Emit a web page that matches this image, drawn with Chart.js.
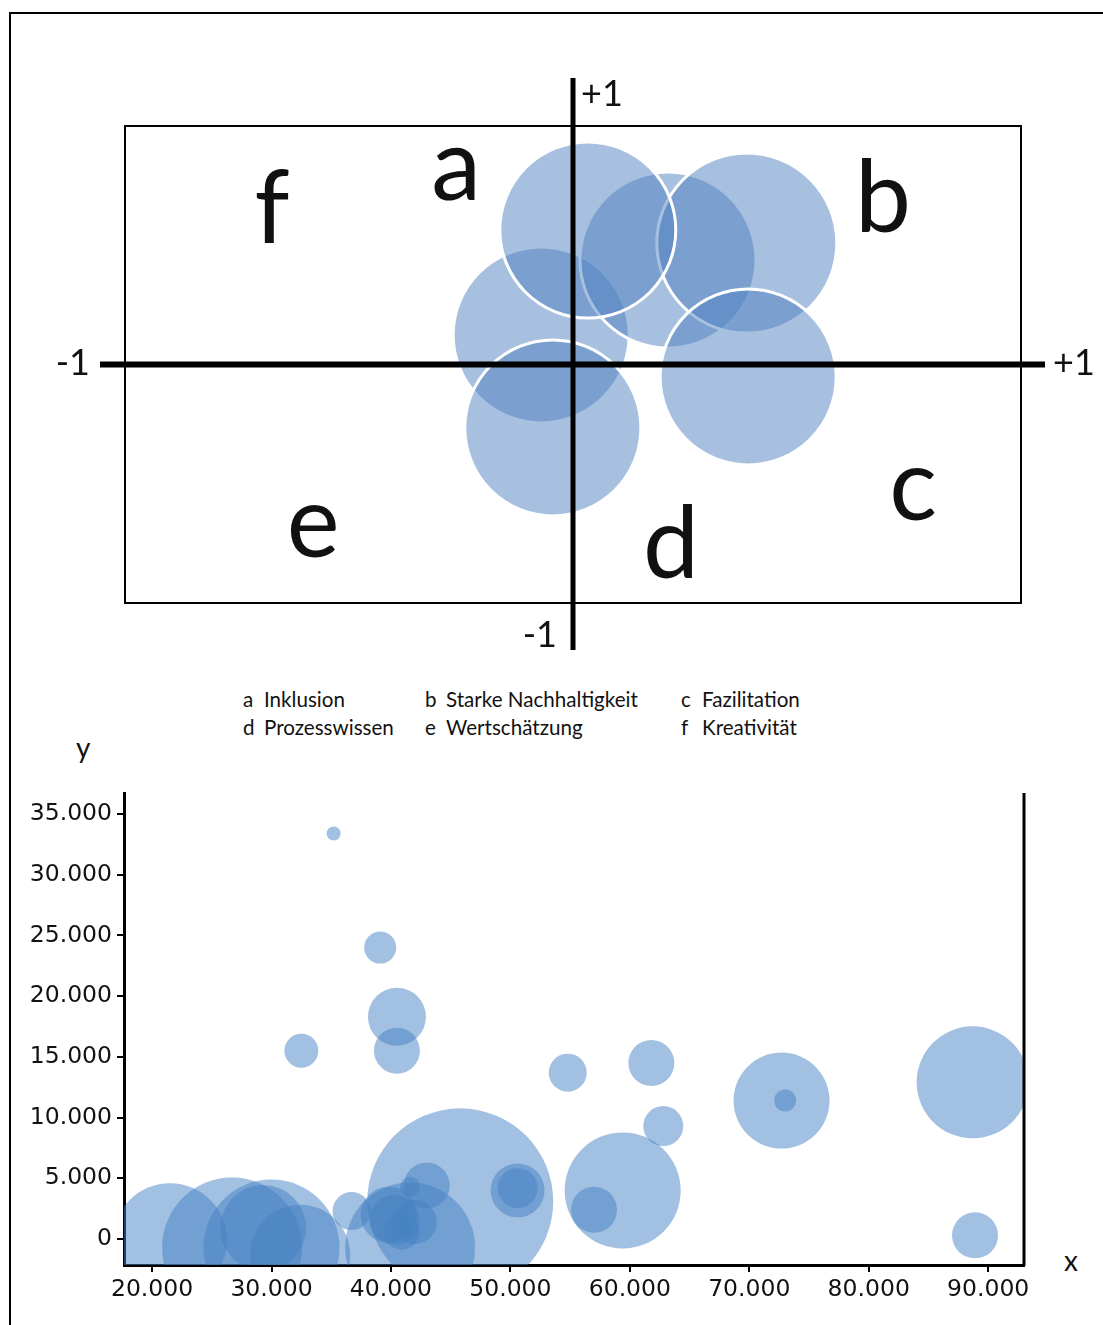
<!DOCTYPE html>
<html>
<head>
<meta charset="utf-8">
<script src="https://cdn.jsdelivr.net/npm/chart.js@4/dist/chart.umd.min.js"></script>
<style>
  body { margin: 0; width: 1103px; height: 1325px; overflow: hidden; background: #fff; position: relative; font-family: Lato, sans-serif; }
  #frame { position: absolute; left: 9px; top: 12px; width: 1200px; height: 1400px; border: 2px solid #000; }
  #quad { position: absolute; left: 0; top: 0; }
  #scatter { position: absolute; left: 0; top: 770px; }
  .leg { position: absolute; font-size: 20.6px; line-height: 20px; color: #111; white-space: nowrap; }
  .axname { position: absolute; font-family: Lato, sans-serif; font-size: 28px; line-height: 28px; color: #111; }
</style>
</head>
<body>
<div id="frame"></div>
<canvas id="quad" width="1103" height="670"></canvas>
<div id="legend"></div>
<span class="axname" style="left:76px; top:733px;">y</span>
<span class="axname" style="left:1064px; top:1246px;">x</span>
<canvas id="scatter" width="1103" height="555"></canvas>
<script>
// --- top diagram: competence positions on the -1..+1 plane ---
const topX = [-0.071, 0.212, 0.388, 0.033, 0.391, -0.045];
const topY = [0.124, 0.438, 0.509, 0.564, -0.052, -0.266];
const topR = [88, 88, 90, 88, 88, 88];

const quadLetters = ["a", "b", "c", "d", "e", "f"];
const letterX = [-0.261, 0.692, 0.759, 0.219, -0.580, -0.672];
const letterY = [0.690, 0.556, -0.652, -0.895, -0.807, 0.509];

const legendKeys = ["a", "b", "c", "d", "e", "f"];
const legendNames = ["Inklusion", "Starke Nachhaltigkeit", "Fazilitation", "Prozesswissen", "Wertschätzung", "Kreativität"];

// --- bottom scatter ---
const botX = [35200, 39100, 40500, 40500, 32500, 54800, 61800, 62800, 72700, 73000,
  88700, 88900, 59400, 57000, 50600, 50600, 45800, 43000, 41600, 41600,
  36700, 40300, 40900, 39800, 42000, 21500, 26700, 29300, 30000, 32400];
const botY = [33400, 24000, 18300, 15500, 15500, 13700, 14500, 9300, 11400, 11400,
  12900, 300, 4000, 2400, 4000, 4200, 3100, 4400, 4300, -700,
  2300, 1600, 600, 2000, 1400, -100, -700, 900, -700, -1300];
const botR = [7, 16, 29, 23, 17, 19, 23, 20, 48, 11,
  56, 23, 58, 23, 27, 20, 93, 23, 10, 65,
  19, 25, 18, 28, 22, 57, 70, 43, 68, 50];

const xTicks = [20000, 30000, 40000, 50000, 60000, 70000, 80000, 90000];
const yTicks = [0, 5000, 10000, 15000, 20000, 25000, 30000, 35000];

function fmt(v) {
  return String(v).replace(/\B(?=(\d{3})+(?!\d))/g, ".");
}

// legend below the diagram
const legendCols = [243, 425, 681];
const legendRows = [689, 717];
const legendBox = document.getElementById("legend");
legendKeys.forEach((k, i) => {
  const left = legendCols[i % 3];
  const top = legendRows[Math.floor(i / 3)];
  const key = document.createElement("span");
  key.className = "leg";
  key.style.left = left + "px";
  key.style.top = top + "px";
  key.textContent = k;
  legendBox.appendChild(key);
  const name = document.createElement("span");
  name.className = "leg";
  name.style.left = (left + 21) + "px";
  name.style.top = top + "px";
  name.textContent = legendNames[i];
  legendBox.appendChild(name);
});

const quadPlugin = {
  id: "quadPlugin",
  beforeDatasetsDraw(chart) {
    const { ctx, chartArea: a } = chart;
    ctx.save();
    ctx.strokeStyle = "#000";
    ctx.lineWidth = 2;
    ctx.strokeRect(a.left, a.top, a.right - a.left, a.bottom - a.top);
    ctx.restore();
  },
  afterDatasetsDraw(chart) {
    const { ctx, chartArea: a, scales } = chart;
    const x0 = scales.x.getPixelForValue(0);
    const y0 = scales.y.getPixelForValue(0);
    ctx.save();
    ctx.strokeStyle = "#000";
    ctx.lineWidth = 6;
    ctx.beginPath();
    ctx.moveTo(a.left - 25, y0);
    ctx.lineTo(a.right + 24, y0);
    ctx.stroke();
    ctx.lineWidth = 5;
    ctx.beginPath();
    ctx.moveTo(x0, a.top - 48);
    ctx.lineTo(x0, a.bottom + 47);
    ctx.stroke();

    ctx.fillStyle = "#111";
    ctx.font = "36px Lato";
    ctx.textBaseline = "middle";
    ctx.textAlign = "left";
    ctx.fillText("+1", x0 + 8, a.top - 32);
    ctx.fillText("+1", a.right + 32, y0 - 1);
    ctx.textAlign = "right";
    ctx.fillText("-1", a.left - 35, y0 - 1);
    ctx.fillText("-1", x0 - 16, a.bottom + 32);

    ctx.font = "100px Lato";
    ctx.textAlign = "center";
    ctx.textBaseline = "alphabetic";
    quadLetters.forEach((l, i) => {
      ctx.fillText(l, scales.x.getPixelForValue(letterX[i]), scales.y.getPixelForValue(letterY[i]));
    });
    ctx.restore();
  }
};

new Chart(document.getElementById("quad"), {
  type: "bubble",
  data: {
    datasets: [{
      data: topX.map((x, i) => ({ x: x, y: topY[i], r: topR[i] })),
      backgroundColor: "rgba(79, 129, 193, 0.5)",
      borderColor: "#ffffff",
      borderWidth: 3,
      clip: false
    }]
  },
  options: {
    responsive: false,
    animation: false,
    events: [],
    layout: { autoPadding: false, padding: { left: 125, right: 82, top: 126, bottom: 67 } },
    plugins: { legend: { display: false }, tooltip: { enabled: false } },
    scales: {
      x: { type: "linear", min: -1, max: 1, display: false },
      y: { type: "linear", min: -1, max: 1, display: false }
    }
  },
  plugins: [quadPlugin]
});

const rightBorder = {
  id: "rightBorder",
  afterDraw(chart) {
    const { ctx, chartArea: a } = chart;
    ctx.save();
    ctx.strokeStyle = "#000";
    ctx.lineWidth = 3;
    ctx.beginPath();
    ctx.moveTo(a.right, a.top);
    ctx.lineTo(a.right, a.bottom + 1);
    ctx.stroke();
    ctx.restore();
  }
};

const tickFont = { family: "DejaVu Sans", size: 23.5 };

new Chart(document.getElementById("scatter"), {
  type: "bubble",
  data: {
    datasets: [{
      data: botX.map((x, i) => ({ x: x, y: botY[i], r: botR[i] })),
      backgroundColor: "rgba(70, 130, 195, 0.5)",
      borderWidth: 0,
      clip: 0
    }]
  },
  options: {
    responsive: false,
    animation: false,
    events: [],
    layout: { autoPadding: false, padding: { left: 10, right: 79, top: 23, bottom: 0 } },
    plugins: { legend: { display: false }, tooltip: { enabled: false } },
    scales: {
      x: {
        type: "linear",
        min: 17650,
        max: 93000,
        afterBuildTicks: (s) => { s.ticks = xTicks.map((v) => ({ value: v })); },
        afterFit: (s) => { s.height = 60; },
        grid: { drawOnChartArea: false, drawTicks: true, tickLength: 7, color: "#000", lineWidth: 2 },
        border: { color: "#000", width: 3 },
        ticks: { color: "#111", font: tickFont, padding: 4, maxRotation: 0, autoSkip: false, callback: fmt }
      },
      y: {
        type: "linear",
        min: -2140,
        max: 36730,
        afterBuildTicks: (s) => { s.ticks = yTicks.map((v) => ({ value: v })); },
        afterFit: (s) => { s.width = 114; },
        grid: { drawOnChartArea: false, drawTicks: true, tickLength: 7, color: "#000", lineWidth: 2 },
        border: { color: "#000", width: 3 },
        ticks: { color: "#111", font: tickFont, padding: 5, autoSkip: false, callback: fmt }
      }
    }
  },
  plugins: [rightBorder]
});
</script>
</body>
</html>
